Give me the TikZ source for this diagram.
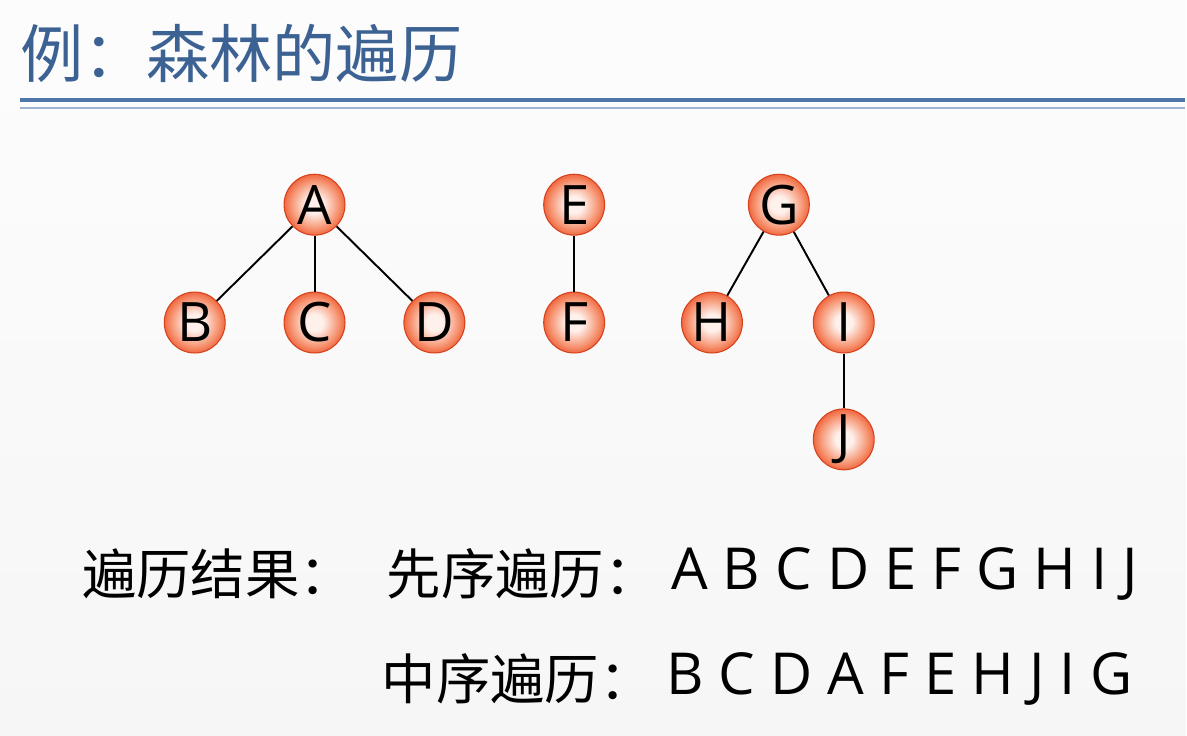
\documentclass[tikz,border=0pt]{standalone}
\usepackage{fontspec}
\setmainfont{Open Sans}
\newfontfamily\cjk{Noto Sans CJK SC}
\usetikzlibrary{positioning}

\definecolor{titleblue}{RGB}{60,98,148}
\definecolor{ruleblue}{RGB}{78,118,168}
\definecolor{ballin}{RGB}{254,240,235}
\definecolor{ballmid}{RGB}{246,145,110}
\definecolor{ballout}{RGB}{234,72,30}
\definecolor{balledge}{RGB}{214,66,28}
\pgfdeclareradialshading{ball}{\pgfpoint{0bp}{0bp}}{%
  color(0bp)=(ballin); color(7bp)=(ballin); color(20bp)=(ballmid);
  color(29bp)=(ballout); color(50bp)=(ballout)}

\tikzset{
  knot/.style={circle, minimum size=1.22cm, inner sep=0pt, shading=ball,
    draw=balledge, line width=0.6pt, font=\fontsize{31}{31}\selectfont},
  branch/.style={line width=1.1pt, black},
  label/.style={anchor=west, font=\cjk\fontsize{31}{31}\selectfont},
  seq/.style={anchor=west, font=\fontsize{33}{33}\selectfont}
}

\begin{document}
\begin{tikzpicture}[x=0.02cm, y=-0.02cm]
    % Background
    \shade[top color=gray!2, bottom color=gray!7] (0,0) rectangle (1187,737);

    % Title and rules
    \node[anchor=west, text=titleblue, font=\cjk\fontsize{36}{36}\selectfont] (title) at (14,53) {例：森林的遍历};
    \draw[line width=2pt, ruleblue] (20,100) -- (1187,100);
    \draw[line width=0.8pt, ruleblue!55] (20,108) -- (1187,108);

    % Tree 1
    \node[knot] (A) at (315,205) {A};
    \node[knot] (B) at (195,323) {B};
    \node[knot] (C) at (315,323) {C};
    \node[knot] (D) at (435,323) {D};

    % Tree 2
    \node[knot] (E) at (575,205) {E};
    \node[knot] (F) at (575,323) {F};

    % Tree 3
    \node[knot] (G) at (780,205) {G};
    \node[knot] (H) at (713,323) {H};
    \node[knot] (I) at (845,323) {I};
    \node[knot] (J) at (845,440) {J};

    % Branches
    \draw[branch] (A) -- (B);
    \draw[branch] (A) -- (C);
    \draw[branch] (A) -- (D);
    \draw[branch] (E) -- (F);
    \draw[branch] (G) -- (H);
    \draw[branch] (G) -- (I);
    \draw[branch] (I) -- (J);

    % Results
    \node[label] (result) at (76,575) {遍历结果：};
    \node[label] (pre) at (381,575) {先序遍历：};
    \node[label] (in) at (376,680) {中序遍历：};
    \node[seq] (preseq) at (666,575) {A B C D E F G H I J};
    \node[seq] (inseq) at (661,680) {B C D A F E H J I G};
\end{tikzpicture}
\end{document}
